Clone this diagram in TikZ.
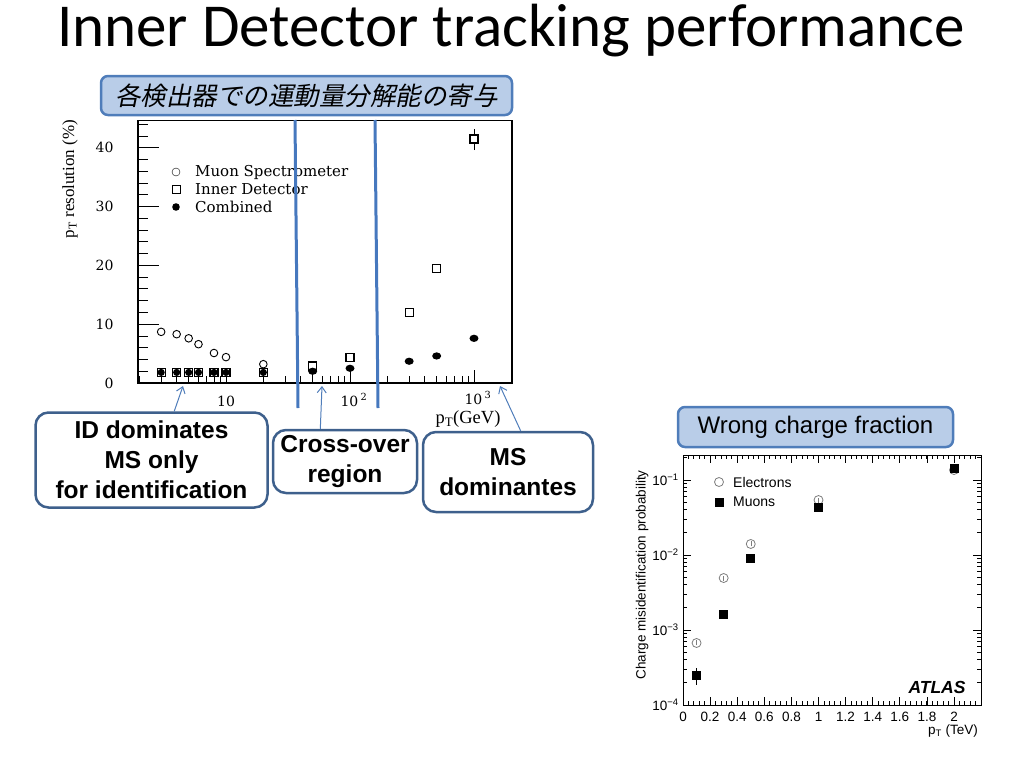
\documentclass[tikz,border=0pt]{standalone}
\usepackage{fontspec}
\setmainfont{Liberation Sans}
\newfontfamily\titlefont{Carlito}
\newfontfamily\jpfont[FakeSlant=0.2]{Noto Sans CJK JP}
\newfontfamily\plotfont{DejaVu Serif}
\newfontfamily\timesfont{Liberation Serif}
\usepackage{xcolor}
\usepackage{tikz}
\usetikzlibrary{arrows.meta}

\definecolor{boxfill}{RGB}{185,205,232}
\definecolor{boxline}{RGB}{79,125,186}
\definecolor{callline}{RGB}{62,96,140}
\definecolor{regionline}{RGB}{70,120,190}
\definecolor{electrongrey}{RGB}{125,125,125}

\tikzset{
  headbox/.style={draw=boxline, fill=boxfill, line width=2.5pt, rounded corners=7pt, inner sep=0pt},
  callbox/.style={draw=callline, fill=white, line width=2.5pt, rounded corners=13pt, inner sep=0pt,
    align=center, font=\fontsize{24.5}{30}\selectfont\bfseries},
  callarrow/.style={draw=boxline, line width=1pt, -{Straight Barb[length=6pt,width=9pt]}},
  regionmark/.style={draw=regionline, line width=3pt},
  seriflabel/.style={font=\plotfont\fontsize{14}{14}\selectfont, inner sep=0pt},
  legendtext/.style={font=\plotfont\fontsize{15}{15}\selectfont, anchor=west, inner sep=0pt},
  sanslabel/.style={font=\fontsize{13.5}{13.5}\selectfont, inner sep=0pt},
  electron/.style={draw=electrongrey, line width=0.8pt}
}

\begin{document}
\begin{tikzpicture}[x=1pt,y=-1pt]
\useasboundingbox (0,0) rectangle (1024,768);

\node[anchor=base, inner sep=0pt] (title) at (511,47) {\titlefont\fontsize{61}{61}\selectfont Inner Detector tracking performance};

% pT resolution plot (log x, 1 decade = 124px)
\begin{scope}[shift={(102,383)},x=124pt,y=5.88pt,line width=0.9pt]
  \draw[line width=1.2pt] (0.29,0) rectangle (3.306,44.7);
  \foreach \v in {2,4,...,44} \draw (0.29,\v) -- ++(10pt,0);
  \foreach \v in {10,20,30,40} \draw (0.29,\v) -- ++(21pt,0);
  \foreach \v in {0,10,...,40}
    \node[seriflabel, anchor=east] (ylab\v) at ([xshift=-24pt]0.29,\v) {\v};
  \foreach \d in {0,1,2} \foreach \k in {2,...,9}
    \draw ({\d+log10(\k)},0) -- ++(0,7pt);
  \foreach \d in {1,2,3} \draw (\d,0) -- ++(0,13pt);
  \node[seriflabel] (xlab1) at ([yshift=-18pt]1,0) {10};
  \node[seriflabel] (xlab2) at ([xshift=4pt,yshift=-17pt]2,0) {10\,\textsuperscript{2}};
  \node[seriflabel] (xlab3) at ([xshift=4pt,yshift=-15pt]3,0) {10\,\textsuperscript{3}};
  % stems
  \foreach \p in {3,4,5,6,8,10,20,50,100}
    \draw ({log10(\p)},0) -- ++(0,11pt);
  % muon spectrometer
  \foreach \p/\v in {3/8.7,4/8.3,5/7.6,6/6.6,8/5.1,10/4.4,20/3.2}
    \draw[fill=white] ({log10(\p)},\v) circle[radius=3.8pt];
  % inner detector
  \draw ({3},39.6) -- ({3},43.2);
  \foreach \p/\v in {3/1.8,4/1.8,5/1.8,6/1.8,8/1.8,10/1.8,20/1.8,50/2.9,100/4.4,300/12,500/19.4,1000/41.5}
    \draw[fill=white, line width=1.1pt] ({log10(\p)},\v) ++(-4pt,-4pt) rectangle ++(8pt,8pt);
  % combined
  \foreach \p/\v in {3/1.8,4/1.8,5/1.8,6/1.8,8/1.8,10/1.8,20/1.8}
    \fill ({log10(\p)},\v) circle[radius=3.6pt];
  \foreach \p/\v in {50/2.0,100/2.5,300/3.7,500/4.6,1000/7.6}
    \fill ({log10(\p)},\v) circle[x radius=4.5pt, y radius=3.6pt];
\end{scope}

\node[font=\timesfont\fontsize{17}{17}\selectfont, rotate=90] (restitle) at (70,179) {p\textsubscript{T} resolution (\%)};
\node[font=\timesfont\fontsize{18.5}{18.5}\selectfont, inner sep=0pt] (ptlabel) at (468,419) {p\textsubscript{T}(GeV)};

\draw (176,172) circle[radius=4pt];
\node[legendtext] (mslegend) at (195,172) {Muon Spectrometer};
\draw[line width=0.9pt] (172,185) rectangle (180,193);
\node[legendtext] (idlegend) at (195,189) {Inner Detector};
\fill (176,207) circle[radius=3.8pt];
\node[legendtext] (cblegend) at (195,207) {Combined};

% region borders
\draw[regionmark] (295,120) -- (298,408);
\draw[regionmark] (375,120) -- (378,408);

\node[headbox, minimum width=411pt, minimum height=39pt] (jphead) at (306.5,95.5)
  {\jpfont\fontsize{25.5}{25.5}\selectfont 各検出器での運動量分解能の寄与};

\node[callbox, minimum width=232pt, minimum height=95pt] (idbox) at (151.5,460) {ID dominates\\MS only\\for identification};
\node[callbox, minimum width=144pt, minimum height=63pt] (crossbox) at (345,461.5) {Cross-over\\region};
\node[callbox, minimum width=170pt, minimum height=80pt] (msbox) at (508,472) {MS\\dominantes};
\coordinate (idtip) at (183,386);
\coordinate (crosstip) at (322,386);
\coordinate (mstip) at (500,386);
\draw[callarrow] (idbox.65) -- (idtip);
\draw[callarrow] (crossbox.127) -- (crosstip);
\draw[callarrow] (msbox.73) -- (mstip);

% charge misidentification plot (log y, 1 decade = 75px)
\begin{scope}[shift={(683,705)},x=135.5pt,y=75pt,line width=0.8pt]
  \draw (0,0) rectangle (2.2,3.333);
  \foreach \i in {1,...,54} {
    \draw (\i*0.04,0) -- ++(0,4pt);
    \draw (\i*0.04,3.333) -- ++(0,-4pt);
  }
  \foreach \i in {1,...,10} {
    \draw (\i*0.2,0) -- ++(0,8pt);
    \draw (\i*0.2,3.333) -- ++(0,-8pt);
  }
  \foreach \d in {0,1,2} \foreach \k in {2,...,9} {
    \draw (0,{\d+log10(\k)}) -- ++(4pt,0);
    \draw (2.2,{\d+log10(\k)}) -- ++(-4pt,0);
  }
  \draw (0,{3+log10(2)}) -- ++(4pt,0);
  \draw (2.2,{3+log10(2)}) -- ++(-4pt,0);
  \foreach \d in {1,2,3} {
    \draw (0,\d) -- ++(8pt,0);
    \draw (2.2,\d) -- ++(-8pt,0);
  }
  \foreach \x [count=\n] in {0,0.2,0.4,0.6,0.8,1,1.2,1.4,1.6,1.8,2}
    \node[sanslabel] (xtick\n) at ([yshift=-12pt]\x,0) {\x};
  \foreach \d/\e in {0/4,1/3,2/2,3/1}
    \node[sanslabel, anchor=east] (ytick\e) at ([xshift=-4pt]0,\d) {10\textsuperscript{−\e}};
  % electrons
  \foreach \x/\v in {0.1/0.827,0.3/1.693,0.5/2.147,1/2.733,2/3.133} {
    \draw[electron] (\x,\v) circle[radius=4.5pt];
    \draw[electron, line width=0.5pt] (\x,\v) ++(0,-2.5pt) -- ++(0,5pt);
  }
  % muons
  \draw (0.1,0.267) -- (0.1,0.493);
  \foreach \x/\v in {0.1/0.387,0.3/1.213,0.5/1.96,1/2.64,2/3.16}
    \fill (\x,\v) ++(-4.5pt,-4.5pt) rectangle ++(9pt,9pt);
\end{scope}

\node[font=\fontsize{13.5}{13.5}\selectfont, rotate=90] (probtitle) at (642,575) {Charge misidentification probability};
\node[sanslabel] (tevtitle) at (953,731) {p\textsubscript{T} (TeV)};
\draw[electron] (719,482) circle[radius=4.5pt];
\node[font=\fontsize{14}{14}\selectfont, anchor=west, inner sep=0pt] (ellegend) at (733,482) {Electrons};
\fill (714.5,497.5) rectangle (723.5,506.5);
\node[font=\fontsize{14}{14}\selectfont, anchor=west, inner sep=0pt] (mulegend) at (733,502) {Muons};
\node[font=\fontsize{17.5}{17.5}\selectfont\bfseries\itshape] (atlas) at (937,687) {ATLAS};

\node[headbox, minimum width=275pt, minimum height=40pt] (wrongbox) at (815.5,427)
  {\fontsize{24}{24}\selectfont Wrong charge fraction};
\end{tikzpicture}
\end{document}
